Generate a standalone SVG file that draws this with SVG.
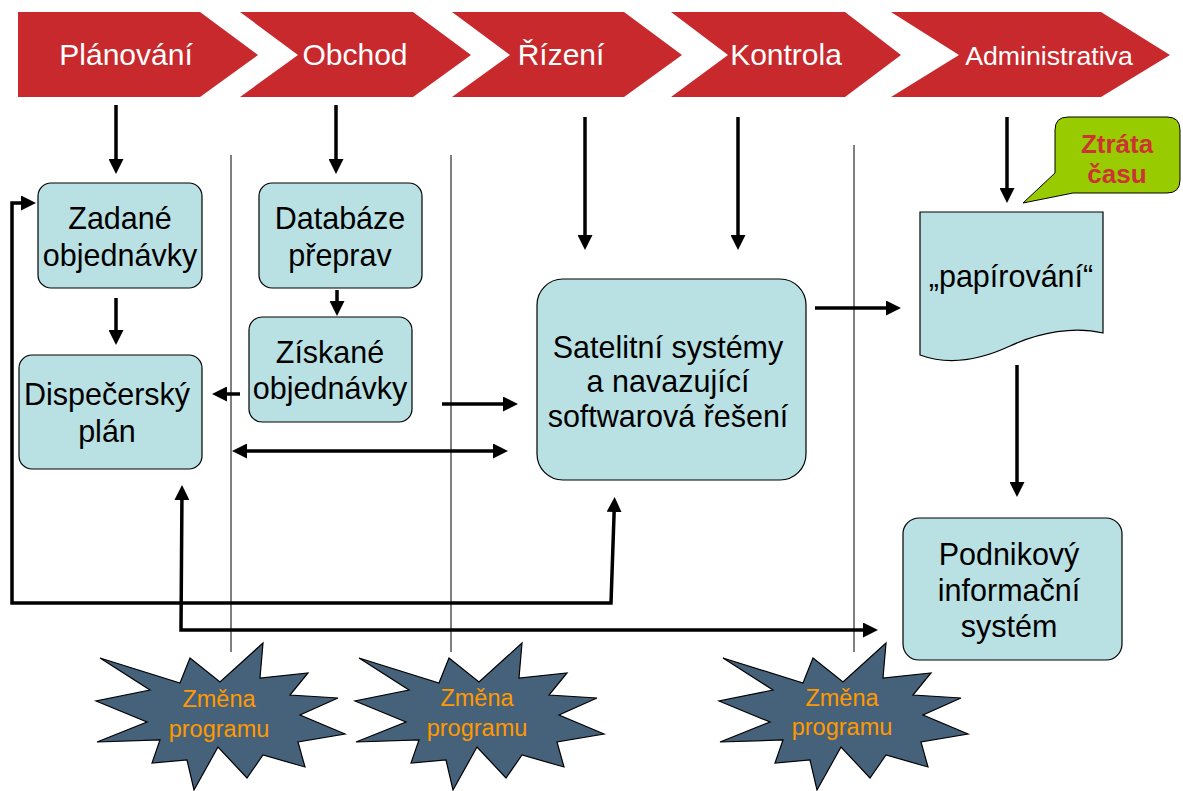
<svg xmlns="http://www.w3.org/2000/svg" width="1183" height="791" viewBox="0 0 1183 791">
<defs>
<style>
text{font-family:"Liberation Sans",Arial,sans-serif;}
.chev{fill:#c8292d;}
.ct{fill:#ffffff;font-size:30px;text-anchor:middle;}
.box{fill:#b9e0e3;stroke:#000;stroke-width:1.2;}
.bt{fill:#000;font-size:30.5px;text-anchor:middle;}
.star{fill:#46627a;stroke:#000;stroke-width:1.2;}
.st{fill:#ff9900;font-size:23.5px;text-anchor:middle;}
.sep{stroke:#000;stroke-width:1;fill:none;}
.ar{stroke:#000;stroke-width:3.5;fill:none;marker-end:url(#ah);}
.ar2{stroke:#000;stroke-width:3.5;fill:none;marker-end:url(#ah);marker-start:url(#ah);}
</style>
<marker id="ah" markerUnits="userSpaceOnUse" markerWidth="15" markerHeight="15" refX="11" refY="7.5" orient="auto-start-reverse">
<path d="M0,0 L15,7.5 L0,15 Z" fill="#000"/>
</marker>
<polygon id="starShape" points="100,658 180,683 190,658 220,682 263,643 260,678 308,673 290,695 338,698 300,715 345,734 298,742 305,767 263,755 247,778 218,747 194,790 187,760 152,763 160,740 97,742 147,722 96,701 150,690"/>
</defs>
<rect x="0" y="0" width="1183" height="791" fill="#ffffff"/>

<!-- phase chevrons -->
<g id="phase-planovani">
<polygon class="chev" points="18,12 200,12 258,55 200,97 18,97"/>
<text class="ct" x="126" y="65">Plánování</text>
</g>
<g id="phase-obchod">
<polygon class="chev" points="240,12 413,12 471,55 413,97 240,97 298,55"/>
<text class="ct" x="355" y="65">Obchod</text>
</g>
<g id="phase-rizeni">
<polygon class="chev" points="452,12 624,12 682,55 624,97 452,97 510,55"/>
<text class="ct" x="561" y="65">Řízení</text>
</g>
<g id="phase-kontrola">
<polygon class="chev" points="671,12 845,12 901,55 845,97 671,97 728,55"/>
<text class="ct" x="786" y="65">Kontrola</text>
</g>
<g id="phase-administrativa">
<polygon class="chev" points="891,12 1101,12 1170,55 1101,97 891,97 959,55"/>
<text class="ct" x="1049" y="65" style="font-size:26.7px">Administrativa</text>
</g>

<!-- separators -->
<g id="separators">
<line class="sep" x1="231" y1="155" x2="231" y2="652"/>
<line class="sep" x1="451" y1="155" x2="451" y2="652"/>
<line class="sep" x1="854" y1="145" x2="854" y2="652"/>
</g>

<!-- nodes -->
<g id="zadane">
<rect class="box" x="38" y="183" width="164" height="105" rx="13"/>
<text class="bt" x="120" y="229">Zadané</text>
<text class="bt" x="120" y="266">objednávky</text>
</g>
<g id="databaze">
<rect class="box" x="259" y="183" width="163" height="105" rx="13"/>
<text class="bt" x="340" y="229">Databáze</text>
<text class="bt" x="340" y="266">přeprav</text>
</g>
<g id="ziskane">
<rect class="box" x="249" y="317" width="163" height="105" rx="13"/>
<text class="bt" x="330" y="363">Získané</text>
<text class="bt" x="330" y="399">objednávky</text>
</g>
<g id="dispecersky">
<rect class="box" x="19" y="355" width="183" height="114" rx="13"/>
<text class="bt" x="107" y="405">Dispečerský</text>
<text class="bt" x="107" y="442">plán</text>
</g>
<g id="satelitni">
<rect class="box" x="537" y="279" width="269" height="201" rx="26"/>
<text class="bt" x="668" y="358">Satelitní systémy</text>
<text class="bt" x="668" y="392">a navazující</text>
<text class="bt" x="668" y="427">softwarová řešení</text>
</g>
<g id="papirovani">
<path class="box" d="M920,212 H1103 V333 C1075,326 1040,332 1010,346 C980,360 950,366 920,355 Z"/>
<text class="bt" x="1011" y="287">„papírování“</text>
</g>
<g id="podnikovy">
<rect class="box" x="903" y="518" width="219" height="142" rx="16"/>
<text class="bt" x="1009" y="565">Podnikový</text>
<text class="bt" x="1009" y="601">informační</text>
<text class="bt" x="1009" y="637">systém</text>
</g>
<g id="ztrata-casu">
<path d="M1068,117 H1167 Q1180,117 1180,130 V180 Q1180,193 1167,193 H1073 L1023,203 L1055,173 V130 Q1055,117 1068,117 Z" fill="#99cc00" stroke="#000" stroke-width="1"/>
<text x="1117" y="153" style="font-size:26px;font-weight:bold;fill:#cc3333;text-anchor:middle">Ztráta</text>
<text x="1117" y="183" style="font-size:26px;font-weight:bold;fill:#cc3333;text-anchor:middle">času</text>
</g>

<!-- connectors -->
<g id="connectors">
<path class="ar" d="M116,105 V170"/>
<path class="ar" d="M336,105 V170"/>
<path class="ar" d="M585,117 V246"/>
<path class="ar" d="M738,117 V246"/>
<path class="ar" d="M1007,117 V199"/>
<path class="ar" d="M116,298 V341"/>
<path class="ar" d="M337,290 V312"/>
<path class="ar" d="M240,394 H216"/>
<path class="ar" d="M442,404 H514"/>
<path class="ar2" d="M236,451 H504"/>
<path class="ar" d="M815,308 H897"/>
<path class="ar" d="M1017,365 V493"/>
<path class="ar2" d="M32,203 H12 V603 H611 L614.5,501"/>
<path class="ar2" d="M182,489 L181,630 H874"/>
</g>

<!-- program change stars -->
<g id="zmena-1">
<use href="#starShape" class="star"/>
<text class="st" x="219" y="707">Změna</text>
<text class="st" x="219" y="737">programu</text>
</g>
<g id="zmena-2">
<use href="#starShape" class="star" transform="translate(259,0)"/>
<text class="st" x="477" y="706">Změna</text>
<text class="st" x="477" y="736">programu</text>
</g>
<g id="zmena-3">
<use href="#starShape" class="star" transform="translate(623,0)"/>
<text class="st" x="842" y="706">Změna</text>
<text class="st" x="842" y="735">programu</text>
</g>
</svg>
